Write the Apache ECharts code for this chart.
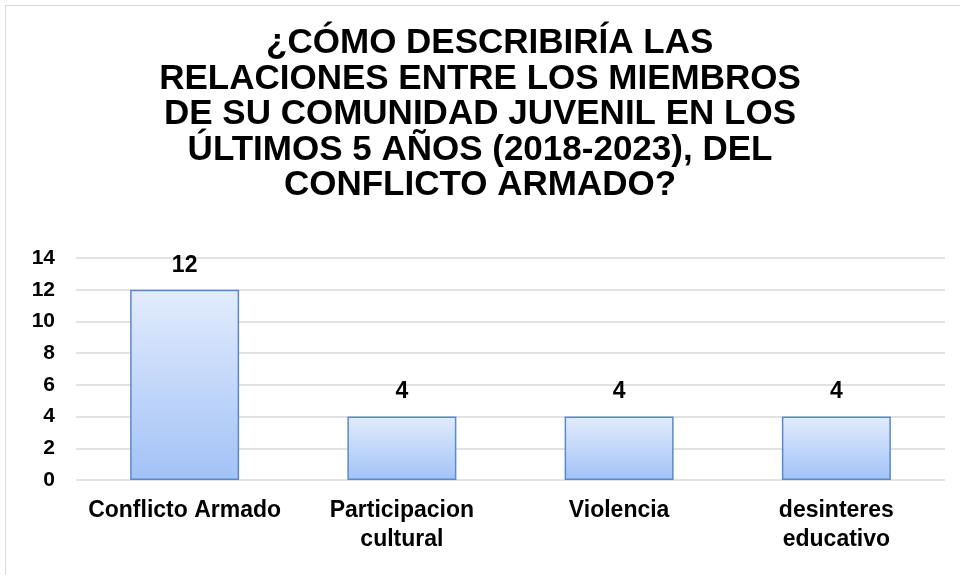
<!DOCTYPE html>
<html>
<head>
<meta charset="utf-8">
<script src="https://cdn.jsdelivr.net/npm/echarts@6/dist/echarts.min.js"></script>
<style>
  html, body { margin: 0; padding: 0; background: #fff; }
  #chart { width: 960px; height: 575px; }
</style>
</head>
<body>
<div id="chart"></div>
<script>
var titleLines = [
    '  ¿CÓMO DESCRIBIRÍA LAS',
    'RELACIONES ENTRE LOS MIEMBROS',
    'DE SU COMUNIDAD JUVENIL EN LOS',
    'ÚLTIMOS 5 AÑOS (2018-2023), DEL',
    'CONFLICTO ARMADO?'
];
var categories = ['Conflicto Armado', 'Participacion\ncultural', 'Violencia', 'desinteres\neducativo'];
var counts = [12, 4, 4, 4];
var yTicks = { min: 0, max: 14, interval: 2 };

var chart = echarts.init(document.getElementById('chart'));
var font = 'Liberation Sans, Arial, sans-serif';

option = {
    animation: false,
    backgroundColor: '#fff',
    graphic: [{
        type: 'rect',
        shape: { x: 5.5, y: 5.5, width: 1000, height: 1000 },
        style: { fill: 'none', stroke: '#d9d9d9', lineWidth: 1 },
        silent: true
    }],
    title: {
        left: 'center',
        top: 26,
        padding: [0, 0, 0, 22],
        text: titleLines.join('\n'),
        textStyle: {
            fontFamily: font,
            fontWeight: 'bold',
            fontSize: 35,
            lineHeight: 35.5,
            color: '#000'
        }
    },
    grid: {
        left: 76,
        right: 15,
        top: 258,
        bottom: 95,
        containLabel: false
    },
    xAxis: {
        type: 'category',
        data: categories,
        axisLine: { show: false },
        axisTick: { show: false },
        axisLabel: {
            margin: 16,
            fontFamily: font,
            fontWeight: 'bold',
            fontSize: 23,
            lineHeight: 29,
            color: '#000',
            interval: 0
        }
    },
    yAxis: {
        type: 'value',
        min: yTicks.min,
        max: yTicks.max,
        interval: yTicks.interval,
        axisLine: { show: false },
        axisTick: { show: false },
        axisLabel: {
            margin: 21,
            fontFamily: font,
            fontWeight: 'bold',
            fontSize: 21,
            color: '#000'
        },
        splitLine: {
            lineStyle: { color: '#d9d9d9', width: 1.5 }
        }
    },
    series: [{
        type: 'bar',
        data: counts,
        barWidth: 109,
        itemStyle: {
            color: new echarts.graphic.LinearGradient(0, 0, 0, 1, [
                { offset: 0, color: '#e2ecfc' },
                { offset: 1, color: '#a2c2f7' }
            ]),
            borderColor: '#5a89cc',
            borderWidth: 1.5
        },
        label: {
            show: true,
            position: 'top',
            distance: 13,
            fontFamily: font,
            fontWeight: 'bold',
            fontSize: 23,
            color: '#000'
        }
    }]
};
chart.setOption(option);
</script>
</body>
</html>
